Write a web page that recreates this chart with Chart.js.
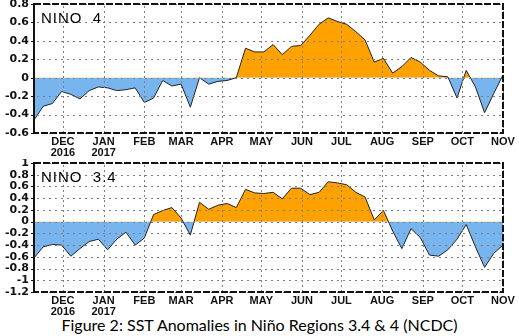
<!DOCTYPE html>
<html><head><meta charset="utf-8">
<script src="https://cdn.jsdelivr.net/npm/chart.js@4"></script>
<style>
html,body{margin:0;padding:0;background:#fff;width:519px;height:336px;overflow:hidden;}
#wrap{position:relative;width:519px;height:336px;}
canvas{position:absolute;left:0;}
#c1{top:0}
#c2{top:159px}
#cap{position:absolute;left:0;top:315px;width:519px;height:21px;background:#fff;font-family:Lato,"Open Sans",sans-serif;font-size:16px;color:#000;text-align:center;line-height:19px;white-space:nowrap;}
</style></head><body>
<div id="wrap">
<canvas id="c1" width="519" height="160"></canvas>
<canvas id="c2" width="519" height="160"></canvas>
<div id="cap">Figure 2: SST Anomalies in Niño Regions 3.4 &amp; 4 (NCDC)</div>
</div>
<script>
// Weekly dates (categories)
const weekDates = ['2016-11-09','2016-11-16','2016-11-23','2016-11-30','2016-12-07','2016-12-14','2016-12-21','2016-12-28',
 '2017-01-04','2017-01-11','2017-01-18','2017-01-25','2017-02-01','2017-02-08','2017-02-15','2017-02-22',
 '2017-03-01','2017-03-08','2017-03-15','2017-03-22','2017-03-29','2017-04-05','2017-04-12','2017-04-19','2017-04-26',
 '2017-05-03','2017-05-10','2017-05-17','2017-05-24','2017-05-31','2017-06-07','2017-06-14','2017-06-21','2017-06-28',
 '2017-07-05','2017-07-12','2017-07-19','2017-07-26','2017-08-02','2017-08-09','2017-08-16','2017-08-23','2017-08-30',
 '2017-09-06','2017-09-13','2017-09-20','2017-09-27','2017-10-04','2017-10-11','2017-10-18','2017-10-25','2017-11-01'];

// SST anomalies (°C)
const nino4 = [-0.46,-0.31,-0.28,-0.15,-0.18,-0.23,-0.14,-0.10,-0.11,-0.14,-0.13,-0.11,-0.27,-0.22,-0.03,-0.09,
 -0.07,-0.32,0.00,-0.07,-0.04,-0.03,0.00,0.32,0.28,0.28,0.36,0.25,0.34,0.35,0.46,0.58,0.65,0.61,0.58,0.50,0.41,
 0.17,0.21,0.05,0.12,0.22,0.17,0.08,0.02,0.01,-0.22,0.08,-0.10,-0.38,-0.17,0.03];
const nino34 = [-0.62,-0.43,-0.39,-0.40,-0.59,-0.46,-0.34,-0.30,-0.48,-0.30,-0.18,-0.40,-0.28,0.12,0.19,0.24,
 0.06,-0.23,0.33,0.21,0.28,0.31,0.24,0.55,0.49,0.48,0.50,0.39,0.57,0.57,0.46,0.50,0.68,0.66,0.63,0.50,0.42,
 0.03,0.19,-0.16,-0.46,-0.12,-0.27,-0.57,-0.59,-0.48,-0.30,-0.05,-0.43,-0.78,-0.54,-0.40];

// Axis ticks
const axisStart = '2016-11-09';
const axisEnd = '2017-11-01';
const monthTickDates = ['2016-12-01','2017-01-01','2017-02-01','2017-03-01','2017-04-01','2017-05-01',
 '2017-06-01','2017-07-01','2017-08-01','2017-09-01','2017-10-01','2017-11-01'];
const monthTickLabels = [['DEC','2016'],['JAN','2017'],'FEB','MAR','APR','MAY','JUN','JUL','AUG','SEP','OCT','NOV'];
const nino4YTicks = [0.8,0.6,0.4,0.2,0,-0.2,-0.4,-0.6];
const nino4YLabels = ['0.8','0.6','0.4','0.2','0','-0.2','-0.4','-0.6'];
const nino34YTicks = [1,0.8,0.6,0.4,0.2,0,-0.2,-0.4,-0.6,-0.8,-1,-1.2];
const nino34YLabels = ['1','0.8','0.6','0.4','0.2','0','-0.2','-0.4','-0.6','-0.8','-1','-1.2'];

const dayOf = d => (Date.parse(d) - Date.parse(axisStart)) / 86400000;

function drawGrid(chart, yTicks) {
  const {ctx, chartArea: {left, right, top, bottom}} = chart;
  const xs = chart.scales.x, ys = chart.scales.y;
  ctx.save();
  ctx.fillStyle = '#808080';
  monthTickDates.forEach(d => {
    const px = Math.round(xs.getPixelForValue(dayOf(d)));
    for (let y = top + 2; y < bottom - 1; y += 5) ctx.fillRect(px, y, 1, 2);
  });
  yTicks.forEach(v => {
    const py = Math.round(ys.getPixelForValue(v));
    for (let x = left + 3; x < right - 1; x += 6) ctx.fillRect(x, py, 2, 1);
  });
  ctx.restore();
}

const framePlugin = {
  id: 'frame',
  afterDatasetsDraw(chart, args, opts) { drawGrid(chart, opts.yTicks); },
  afterDraw(chart, args, opts) {
    const {ctx, chartArea: {left, right, top, bottom}} = chart;
    const ys = chart.scales.y;
    ctx.save();
    ctx.lineWidth = 2;
    ctx.strokeStyle = '#111';
    ctx.setLineDash([7, 2]);
    ctx.beginPath();
    ctx.moveTo(left, top); ctx.lineTo(right, top); ctx.lineTo(right, bottom); ctx.lineTo(left, bottom);
    ctx.stroke();
    ctx.setLineDash([]);
    ctx.beginPath(); ctx.moveTo(left, top - 1); ctx.lineTo(left, bottom + 1); ctx.stroke();
    ctx.fillStyle = '#111';
    opts.yTicks.forEach(v => {
      const py = Math.round(ys.getPixelForValue(v));
      ctx.fillRect(left - 3, py, 3, 1);
    });
    ctx.font = '15px "Liberation Sans", Arial, sans-serif';
    try { ctx.letterSpacing = '1px'; } catch (e) {}
    ctx.fillStyle = '#000';
    ctx.textBaseline = 'alphabetic';
    ctx.textAlign = 'left';
    ctx.fillText(opts.text, left + 7, top + 19);
    ctx.restore();
  }
};

function makeChart(id, values, title, yMin, yMax, yTicks, yLabels) {
  return new Chart(document.getElementById(id), {
    type: 'line',
    data: {
      datasets: [{
        data: weekDates.map((d, i) => ({x: dayOf(d), y: values[i]})),
        borderColor: '#222',
        borderWidth: 1,
        pointRadius: 0,
        tension: 0,
        fill: {target: 'origin', above: '#FFA200', below: '#78B4EE'}
      }]
    },
    options: {
      responsive: false,
      animation: false,
      devicePixelRatio: 1,
      layout: {padding: {left: 0, right: 16, top: 4, bottom: 0}},
      plugins: {legend: {display: false}, tooltip: {enabled: false}, frame: {text: title, yTicks: yTicks}},
      scales: {
        x: {
          type: 'linear',
          min: dayOf(axisStart),
          max: dayOf(axisEnd),
          afterBuildTicks: s => { s.ticks = monthTickDates.map(d => ({value: dayOf(d)})); },
          afterFit: s => { s.height = 27; s.paddingLeft = 0; s.paddingRight = 0; },
          grid: {display: false, drawTicks: false},
          border: {display: false},
          ticks: {
            autoSkip: false, maxRotation: 0, padding: 3, color: '#111',
            font: {family: '"Liberation Sans", Arial, sans-serif', size: 11, weight: 'bold', lineHeight: 1.05},
            callback: (v, i) => monthTickLabels[i]
          }
        },
        y: {
          min: yMin, max: yMax,
          afterBuildTicks: s => { s.ticks = yTicks.map(v => ({value: v})); },
          afterFit: s => { s.width = 34; s.paddingTop = 0; s.paddingBottom = 0; },
          grid: {display: false, drawTicks: false},
          border: {display: false},
          ticks: {
            autoSkip: false, padding: 5, color: '#111',
            font: {family: '"DejaVu Sans", sans-serif', size: 11, weight: 'bold'},
            callback: (v, i) => yLabels[i]
          }
        }
      }
    },
    plugins: [framePlugin]
  });
}

makeChart('c1', nino4, 'NINO  4', -0.6, 0.8, nino4YTicks, nino4YLabels);
makeChart('c2', nino34, 'NINO  3.4', -1.2, 1, nino34YTicks, nino34YLabels);
</script>
</body></html>
